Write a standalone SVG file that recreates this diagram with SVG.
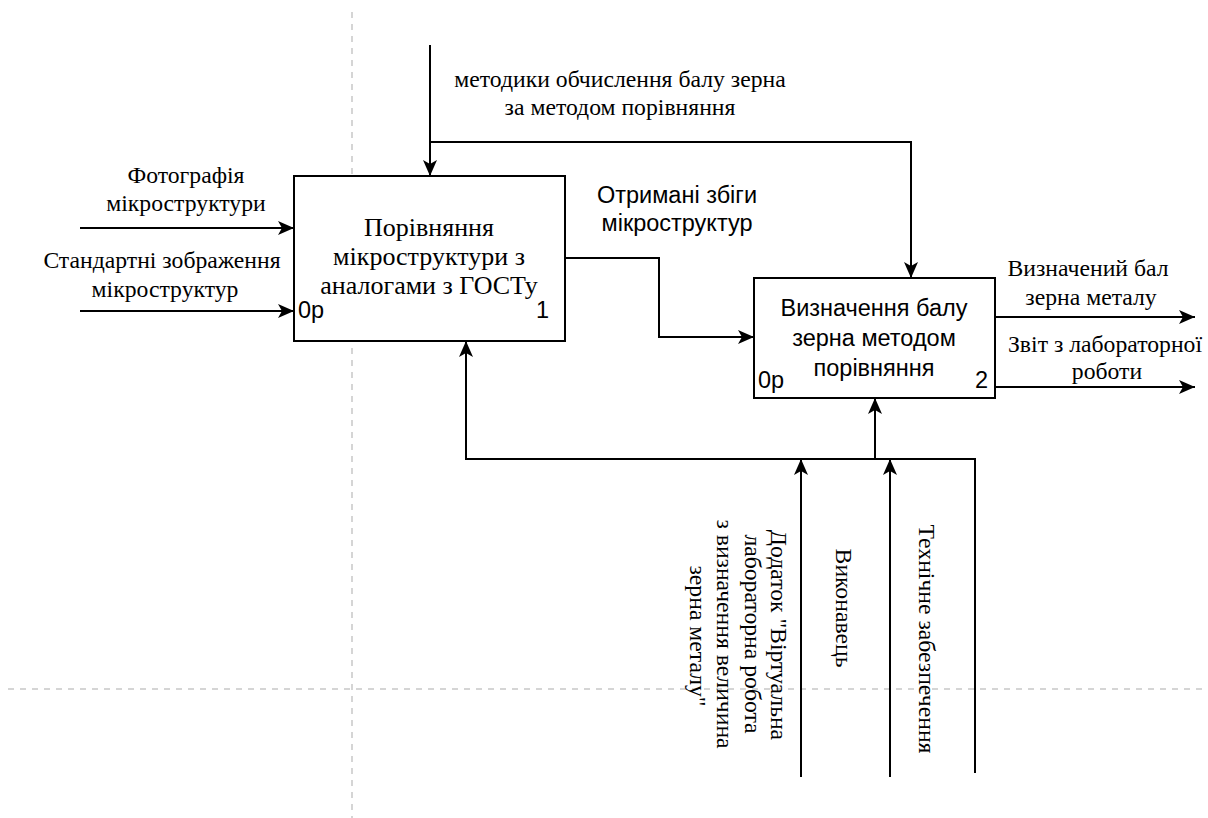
<svg xmlns="http://www.w3.org/2000/svg" width="1208" height="818" viewBox="0 0 1208 818">
  <style>
    .grid { stroke: #c8c8c8; stroke-width: 1.5; stroke-dasharray: 6 6; fill: none; }
    .box { fill: #ffffff; stroke: #000000; stroke-width: 2; }
    .wire { fill: none; stroke: #000000; stroke-width: 2; }
    .serif { font-family: "Liberation Serif", "Times New Roman", serif; font-size: 23.7px; fill: #000000; }
    .sans { font-family: "Liberation Sans", Arial, sans-serif; font-size: 23.5px; fill: #000000; }
    .big { font-size: 26px; }
    .mid { text-anchor: middle; }
    .end { text-anchor: end; }
  </style>
  <defs>
    <marker id="arrow" markerUnits="userSpaceOnUse" markerWidth="18" markerHeight="16" refX="16" refY="7" orient="auto">
      <path d="M0,0 L16,7 L0,14 L4,7 Z" fill="#000000"/>
    </marker>
  </defs>

  <rect width="1208" height="818" fill="#ffffff"/>

  <!-- page grid -->
  <g id="grid">
    <line class="grid" x1="352" y1="12" x2="352" y2="818"/>
    <line class="grid" x1="8" y1="689" x2="1208" y2="689"/>
  </g>

  <!-- arrows between activities -->
  <g id="connectors">
    <path class="wire" d="M80,228 H294" marker-end="url(#arrow)"/>
    <path class="wire" d="M80,311 H294" marker-end="url(#arrow)"/>
    <path class="wire" d="M430,45 V176" marker-end="url(#arrow)"/>
    <path class="wire" d="M430,142 H911 V278" marker-end="url(#arrow)"/>
    <path class="wire" d="M565,258 H659 V337 H754" marker-end="url(#arrow)"/>
    <path class="wire" d="M995,317 H1195" marker-end="url(#arrow)"/>
    <path class="wire" d="M995,387 H1195" marker-end="url(#arrow)"/>
    <path class="wire" d="M975,773 V459 H466 V341" marker-end="url(#arrow)"/>
    <path class="wire" d="M875,459 V398" marker-end="url(#arrow)"/>
    <path class="wire" d="M801,777 V459" marker-end="url(#arrow)"/>
    <path class="wire" d="M890,777 V459" marker-end="url(#arrow)"/>
  </g>

  <!-- arrow labels -->
  <g id="labels">
    <text class="serif mid" x="186" y="183">Фотографія</text>
    <text class="serif mid" x="186" y="211">мікроструктури</text>
    <text class="serif mid" x="162" y="268">Стандартні зображення</text>
    <text class="serif mid" x="165" y="297">мікроструктур</text>
    <text class="serif mid" x="620" y="87">методики обчислення балу зерна</text>
    <text class="serif mid" x="620" y="115">за методом порівняння</text>
    <text class="sans mid" x="677" y="203">Отримані збіги</text>
    <text class="sans mid" x="677" y="231">мікроструктур</text>
    <text class="serif mid" x="1088" y="276">Визначений бал</text>
    <text class="serif mid" x="1091" y="305">зерна металу</text>
    <text class="serif mid" x="1105" y="352">Звіт з лабораторної</text>
    <text class="serif mid" x="1107" y="379">роботи</text>
    <g class="serif mid">
      <text transform="translate(771,635) rotate(90)">Додаток "Віртуальна</text>
      <text transform="translate(745,634) rotate(90)">лабораторна робота</text>
      <text transform="translate(717,634) rotate(90)">з визначення величина</text>
      <text transform="translate(690,636) rotate(90)">зерна металу"</text>
      <text transform="translate(836,608) rotate(90)">Виконавець</text>
      <text transform="translate(919,639) rotate(90)">Технічне забезпечення</text>
    </g>
  </g>

  <!-- activity 1 -->
  <g id="node-1">
    <rect class="box" x="294" y="176" width="271" height="165"/>
    <text class="serif big mid" x="429" y="236">Порівняння</text>
    <text class="serif big mid" x="429" y="265">мікроструктури з</text>
    <text class="serif big mid" x="429" y="294">аналогами з ГОСТу</text>
    <text class="sans" x="298" y="318">0р</text>
    <text class="sans end" x="549" y="318">1</text>
  </g>

  <!-- activity 2 -->
  <g id="node-2">
    <rect class="box" x="754" y="278" width="241" height="120"/>
    <text class="sans mid" x="874" y="316">Визначення балу</text>
    <text class="sans mid" x="874" y="346">зерна методом</text>
    <text class="sans mid" x="874" y="376">порівняння</text>
    <text class="sans" x="758" y="388">0р</text>
    <text class="sans end" x="988" y="388">2</text>
  </g>
</svg>
